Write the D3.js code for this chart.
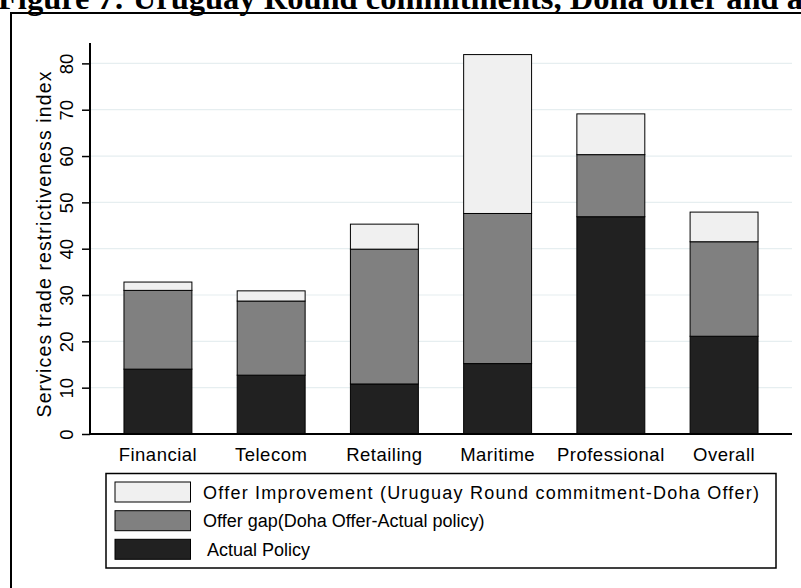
<!DOCTYPE html>
<html>
<head>
<meta charset="utf-8">
<script src="https://cdn.jsdelivr.net/npm/d3@7"></script>
<style>
  html, body { margin: 0; padding: 0; background: #fff; overflow: hidden; }
  svg { display: block; }
  text { font-family: "Liberation Sans", Arial, sans-serif; }
</style>
</head>
<body>
<svg id="chart" width="801" height="588"></svg>
<script>
// ---- data ----
const categories = ["Financial", "Telecom", "Retailing", "Maritime", "Professional", "Overall"];
const actualPolicy     = [14.0, 12.7, 10.8, 15.2, 46.9, 21.1];
const offerGap         = [17.0, 16.0, 29.1, 32.4, 13.4, 20.4];
const offerImprovement = [1.8, 2.2, 5.4, 34.3, 8.8, 6.4];
const yTicks = [0, 10, 20, 30, 40, 50, 60, 70, 80];
const seriesKeys = ["actual", "gap", "improvement"];
const seriesColors = { actual: "#212121", gap: "#808080", improvement: "#f0f0f0" };
const legendItems = [
  { key: "improvement", label: "Offer Improvement (Uruguay Round commitment-Doha Offer)" },
  { key: "gap", label: "Offer gap(Doha Offer-Actual policy)" },
  { key: "actual", label: " Actual Policy" }
];
const titleText = "Figure 7: Uruguay Round commitments, Doha offer and actual policy";
const yTitle = "Services trade restrictiveness index";

const rows = categories.map((c, i) => ({
  category: c, actual: actualPolicy[i], gap: offerGap[i], improvement: offerImprovement[i]
}));

const svg = d3.select("#chart");

// title (partly cut off at top, as in the reference)
svg.append("text")
  .attr("x", -2).attr("y", 8.5)
  .style("font-family", "'Liberation Serif', 'Times New Roman', serif")
  .style("font-weight", "bold")
  .style("font-size", "32.5px")
  .text(titleText);

const x = d3.scaleBand().domain(categories).range([90, 792]).paddingInner(0.4).paddingOuter(0.3);
const y = d3.scaleLinear().domain([0, 84.4]).range([434, 43]);

// gridlines
svg.append("g").selectAll("line").data(yTicks.filter(t => t > 0)).join("line")
  .attr("x1", 90).attr("x2", 792)
  .attr("y1", d => y(d)).attr("y2", d => y(d))
  .attr("stroke", "#e6eef0").attr("stroke-width", 1.2);

// stacked bars
const stack = d3.stack().keys(seriesKeys)(rows);
svg.append("g").selectAll("g").data(stack).join("g")
  .attr("fill", d => seriesColors[d.key])
  .selectAll("rect").data(d => d).join("rect")
  .attr("x", d => x(d.data.category))
  .attr("width", x.bandwidth())
  .attr("y", d => y(d[1]))
  .attr("height", d => y(d[0]) - y(d[1]))
  .attr("stroke", "#000").attr("stroke-width", 1);

// y axis
const yAxis = d3.axisLeft(y).tickValues(yTicks).tickSize(8).tickSizeOuter(0).tickPadding(0).tickFormat(d3.format("d"));
const gy = svg.append("g").attr("transform", "translate(90,0)").call(yAxis);
gy.attr("font-family", null).attr("font-size", null);
gy.select(".domain").attr("stroke", "#000").attr("stroke-width", 2).attr("d", `M0,${y(0) + 1}V${y.range()[1]}`);
gy.selectAll(".tick line").attr("stroke", "#000").attr("stroke-width", 1.5);
gy.selectAll(".tick text")
  .attr("x", 0).attr("y", 0)
  .attr("text-anchor", "middle")
  .attr("dy", null)
  .attr("transform", "translate(-24,0) rotate(-90)")
  .attr("dominant-baseline", "central")
  .style("font-size", "18.5px")
  .attr("fill", "#000");

// y title
svg.append("text")
  .attr("transform", `translate(44,${(y(0) + y.range()[1]) / 2 + 6}) rotate(-90)`)
  .attr("text-anchor", "middle")
  .attr("dominant-baseline", "central")
  .style("font-size", "19.5px")
  .attr("textLength", 346)
  .text(yTitle);

// x axis
const xAxis = d3.axisBottom(x).tickSize(0).tickSizeOuter(0).tickPadding(0);
const gx = svg.append("g").attr("transform", `translate(0,${y(0)})`).call(xAxis);
gx.attr("font-family", null).attr("font-size", null);
gx.select(".domain").attr("stroke", "#000").attr("stroke-width", 2).attr("d", `M89,0H792`);
gx.selectAll(".tick text")
  .attr("y", 27).attr("dy", null)
  .style("font-size", "18.5px")
  .style("letter-spacing", "0.5px")
  .attr("fill", "#000");

// legend
const lg = svg.append("g");
lg.append("rect")
  .attr("x", 106).attr("y", 473.5).attr("width", 670).attr("height", 94.5)
  .attr("fill", "#fff").attr("stroke", "#000").attr("stroke-width", 1.5);
const rowsY = [482, 510.7, 539.3];
legendItems.forEach((item, i) => {
  lg.append("rect")
    .attr("x", 115).attr("y", rowsY[i]).attr("width", 75.5).attr("height", 20)
    .attr("fill", seriesColors[item.key]).attr("stroke", "#000").attr("stroke-width", 1);
  const t = lg.append("text")
    .attr("x", 203).attr("y", rowsY[i] + 16.5)
    .style("font-size", "18px")
    .style("white-space", "pre")
    .attr("xml:space", "preserve")
    .text(item.label);
  if (i === 0) t.attr("textLength", 556);
});

// keep the right margin clear (the reference frame continues past the picture's edge)
svg.append("rect").attr("x", 794).attr("y", 15).attr("width", 10).attr("height", 580).attr("fill", "#fff");

// outer frame (only left and top edges fall inside the picture)
svg.append("path")
  .attr("d", "M11,700V13H900")
  .attr("fill", "none").attr("stroke", "#000").attr("stroke-width", 2);
</script>
</body>
</html>
